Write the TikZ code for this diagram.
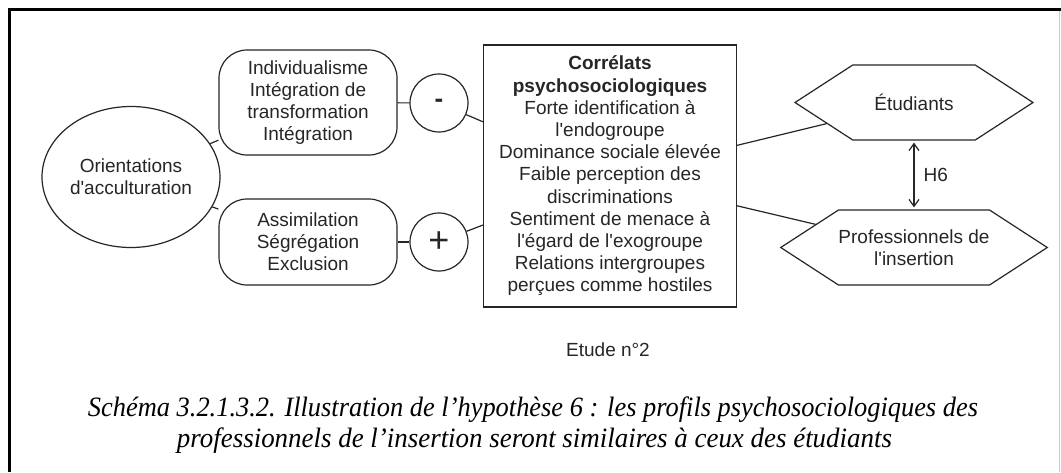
\documentclass[tikz,border=0pt]{standalone}
\usepackage{fontspec}
\setmainfont{Liberation Sans}
\newfontfamily\capfont{Liberation Serif}
\usetikzlibrary{shapes.geometric,shapes.symbols,arrows.meta}
\definecolor{ink}{HTML}{262626}
\newcommand{\q}{\textquotesingle}
\begin{document}
\begin{tikzpicture}[x=1pt,y=-1pt,
  every node/.style={text=ink, font=\fontsize{19}{22.2}\selectfont, align=center, inner sep=0pt},
  shp/.style={draw=ink, line width=1.2pt},
  conn/.style={draw=ink, line width=1.2pt},
  rbox/.style={shp, rounded corners=28pt, minimum width=178pt},
  sign/.style={shp, circle, minimum size=58pt},
  hexa/.style={shp, shape=signal, signal to=west and east, signal pointer angle=66, minimum width=238pt, minimum height=75pt},
  captxt/.style={text=black, font=\capfont\itshape\fontsize{28}{30}\selectfont, anchor=base},
  dbl/.style={conn, >={Straight Barb[length=7pt,width=10pt]}, <->}]
\useasboundingbox (0,0) rectangle (1061,472);
\fill[white] (0,0) rectangle (1061,472);
% frame
\draw[black, line width=3pt] (7.5,9) -- (1061,9);
\draw[black, line width=3pt] (9,7.5) -- (9,472);
\draw[gray!40, line width=1pt] (1059.5,10.5) -- (1059.5,472);
% nodes
\node[shp, ellipse, minimum width=178pt, minimum height=141pt] (orient) at (131,177) {Orientations\\d\q acculturation};
\node[rbox, minimum height=105pt] (indiv) at (308,102.5) {Individualisme\\Intégration de\\transformation\\Intégration};
\node[rbox, minimum height=86pt] (assim) at (308,242) {Assimilation\\Ségrégation\\Exclusion};
\node[sign, font=\fontsize{26}{26}\selectfont\bfseries] (minus) at (439,103) {-};
\node[sign, font=\fontsize{36}{36}\selectfont] (plus) at (439,242) {+};
\node[shp, minimum width=253pt, minimum height=262pt] (corr) at (610,176)
  {\textbf{Corrélats}\\\textbf{psychosociologiques}\\Forte identification à\\l\q endogroupe\\Dominance sociale élevée\\Faible perception des\\discriminations\\Sentiment de menace à\\l\q égard de l\q exogroupe\\Relations intergroupes\\perçues comme hostiles};
\node[hexa] (etud) at (914,102.5) {Étudiants};
\node[hexa] (prof) at (914,247.5) {Professionnels de\\l\q insertion};
\node (etude) at (608,350) {Etude n°2};
\node[captxt] (cap1) at (533,416) {\resizebox{890pt}{\height}{Schéma 3.2.1.3.2. Illustration de l’hypothèse 6 : les profils psychosociologiques des}};
\node[captxt] (cap2) at (534.5,447) {\resizebox{715pt}{\height}{professionnels de l’insertion seront similaires à ceux des étudiants}};
% connectors
\draw[conn] (orient) -- (indiv);
\draw[conn] (orient) -- (assim);
\draw[conn] (indiv) -- (minus);
\draw[conn] (assim) -- (plus);
\draw[conn] (minus) -- (corr);
\draw[conn] (plus) -- (corr);
\draw[conn] (corr) -- (etud);
\draw[conn] (corr) -- (prof);
\draw[dbl] ([yshift=-2pt]etud.south) -- ([yshift=2pt]prof.north)
  node[midway, right=9pt] (h6) {H6};
\end{tikzpicture}
\end{document}
